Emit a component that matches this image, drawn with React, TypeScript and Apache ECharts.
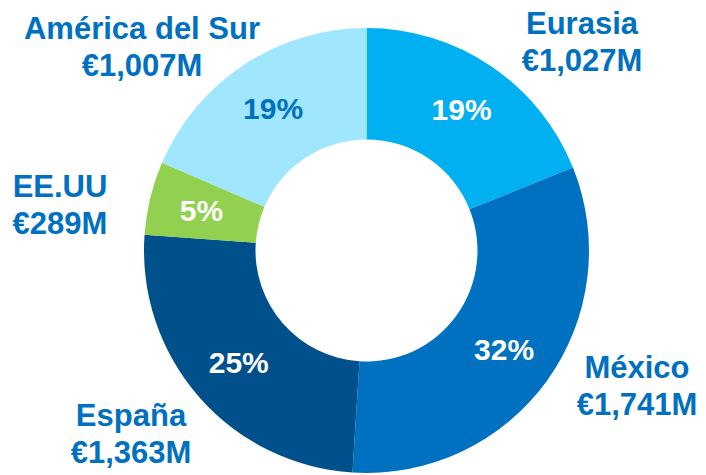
import React, { useEffect, useRef } from "react";
import * as echarts from "echarts";

const regions = ["Eurasia", "México", "España", "EE.UU", "América del Sur"];
const valuesM = [1027, 1741, 1363, 289, 1007];
const sliceColors = ["#00B0F0", "#0070C0", "#00508C", "#92D050", "#A0E6FF"];
const pctColors = ["#FFFFFF", "#FFFFFF", "#FFFFFF", "#FFFFFF", "#0070C0"];
// label anchor positions (layout only)
const labelPos: [number, number][] = [
  [582, 42],
  [637, 386],
  [131, 434],
  [60, 205],
  [142, 47],
];

const FONT = "'Liberation Sans', Arial, sans-serif";
const BLUE = "#0070C0";

export default function App() {
  const ref = useRef<HTMLDivElement>(null);
  useEffect(() => {
    document.body.style.margin = "0";
    const chart = echarts.init(ref.current!, null, { renderer: "svg" });
    const data = regions.map((name, i) => ({
      name,
      value: valuesM[i],
      itemStyle: { color: sliceColors[i] },
    }));
    chart.setOption({
      animation: false,
      series: [
        {
          type: "pie",
          center: [366.5, 250.5],
          radius: [111, 222.5],
          startAngle: 90,
          clockwise: true,
          silent: true,
          label: {
            show: true,
            position: "inside",
            fontFamily: FONT,
            fontWeight: "bold",
            fontSize: 30,
            formatter: (p: any) => Math.round(p.percent) + "%",
          },
          labelLine: { show: false },
          data: data.map((d, i) => ({
            ...d,
            label: { color: pctColors[i] },
          })),
        },
        {
          type: "pie",
          center: [366.5, 250.5],
          radius: [111, 222.5],
          startAngle: 90,
          clockwise: true,
          silent: true,
          z: 1,
          avoidLabelOverlap: false,
          itemStyle: { color: "rgba(0,0,0,0)" },
          label: {
            show: true,
            position: "outside",
            fontFamily: FONT,
            fontWeight: "bold",
            fontSize: 31,
            lineHeight: 37,
            color: BLUE,
            align: "center",
            overflow: "none",
            formatter: (p: any) =>
              p.name + "\n€" + Number(p.value).toLocaleString("en-US") + "M",
          },
          labelLine: { show: false },
          labelLayout: (params: any) => {
            const pos = labelPos[params.dataIndex];
            return {
              x: pos[0],
              y: pos[1],
              align: "center",
              verticalAlign: "middle",
            };
          },
          data: regions.map((name, i) => ({
            name,
            value: valuesM[i],
            itemStyle: { color: "rgba(0,0,0,0)" },
          })),
        },
      ],
    });
    return () => chart.dispose();
  }, []);
  return <div ref={ref} style={{ width: 706, height: 475 }} />;
}
